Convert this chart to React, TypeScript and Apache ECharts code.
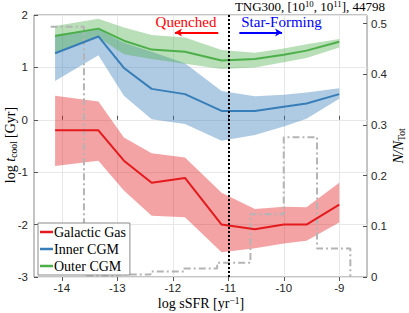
import React, { useEffect, useRef } from "react";
import * as echarts from "echarts";

const xs = [-14.12, -13.34, -12.88, -12.38, -11.78, -11.12, -10.52, -10.0, -9.59, -9.0];

const galMid = [-0.2, -0.2, -0.78, -1.2, -1.11, -2.0, -2.09, -2.0, -2.0, -1.62];
const galUp = [0.46, 0.35, -0.34, -0.64, -0.72, -1.39, -1.7, -1.66, -1.67, -1.2];
const galLo = [-0.88, -0.78, -1.35, -1.83, -1.86, -2.53, -2.45, -2.36, -2.31, -1.96];

const innMid = [1.27, 1.59, 0.99, 0.59, 0.49, 0.17, 0.17, 0.25, 0.31, 0.49];
const innUp = [1.63, 1.73, 1.47, 1.3, 1.08, 0.55, 0.45, 0.48, 0.52, 0.6];
const innLo = [0.74, 1.23, 0.46, 0.01, -0.08, -0.4, -0.29, -0.13, 0.02, 0.4];

const outMid = [1.6, 1.74, 1.51, 1.34, 1.3, 1.13, 1.16, 1.24, 1.32, 1.49];
const outUp = [1.79, 1.93, 1.76, 1.62, 1.57, 1.33, 1.28, 1.36, 1.44, 1.54];
const outLo = [1.27, 1.57, 1.25, 1.16, 1.07, 0.97, 1.0, 1.1, 1.18, 1.38];

const binEdges = [-14.2, -13.6, -13.0, -12.4, -11.8, -11.2, -10.6, -10.0, -9.4, -8.8];
const binFrac = [0.494, 0.002, 0.005, 0.011, 0.017, 0.028, 0.124, 0.276, 0.056];

const xTicks = [-14, -13, -12, -11, -10, -9];
const rightTicks = [0, 0.1, 0.2, 0.3, 0.4, 0.5];
const sSFRcut = -11;

const RED = "#e41a1c";
const BLUE = "#377eb8";
const GREEN = "#4daf4a";

const SERIF = "'Liberation Serif', 'DejaVu Serif', serif";
const SANS = "'Liberation Sans', Arial, sans-serif";

function hexA(hex: string, a: number) {
  const n = parseInt(hex.slice(1), 16);
  return `rgba(${(n >> 16) & 255},${(n >> 8) & 255},${n & 255},${a})`;
}

function band(name: string, up: number[], lo: number[], color: string) {
  return {
    type: "custom",
    name: name + " band",
    xAxisIndex: 0,
    yAxisIndex: 0,
    silent: true,
    z: 1,
    data: [[xs[0], up[0]]],
    renderItem: (params: any, api: any) => {
      if (params.dataIndex !== 0) return null;
      const top = xs.map((x, i) => api.coord([x, up[i]]));
      const bot = xs.map((x, i) => api.coord([x, lo[i]])).reverse();
      return {
        type: "polygon",
        shape: { points: top.concat(bot) },
        style: { fill: hexA(color, 0.4), stroke: "none" },
      };
    },
  };
}

function line(name: string, vals: number[], color: string) {
  return {
    type: "line",
    name,
    xAxisIndex: 0,
    yAxisIndex: 0,
    z: 4,
    showSymbol: false,
    symbol: "none",
    color,
    lineStyle: { color, width: 2 },
    data: xs.map((x, i) => [x, vals[i]]),
  };
}

const histPts: number[][] = [];
binFrac.forEach((h, i) => {
  histPts.push([binEdges[i], h]);
  histPts.push([binEdges[i + 1], h]);
});
histPts.push([binEdges[binEdges.length - 1], 0]);

export default function App() {
  const ref = useRef<HTMLDivElement>(null);
  useEffect(() => {
    if (!ref.current) return;
    const chart = echarts.init(ref.current, null, { renderer: "svg" });
    const mk = (size: number, lh: number) => ({
      n: { fontFamily: SERIF, fontSize: size, color: "#000", lineHeight: lh },
      i: { fontFamily: SERIF, fontSize: size, fontStyle: "italic", color: "#000", lineHeight: lh },
      sub: { fontFamily: SERIF, fontSize: size * 0.68, color: "#000", verticalAlign: "bottom", lineHeight: lh },
      sup: { fontFamily: SERIF, fontSize: size * 0.68, color: "#000", verticalAlign: "top", lineHeight: lh },
    });
    const richBase = mk(14, 18);
    const richTitle = mk(13, 14);
    chart.setOption({
      animation: false,
      backgroundColor: "#fff",
      grid: {
        left: 34,
        right: 42,
        top: 15,
        bottom: 36,
        show: true,
        borderColor: "#8a8a8a",
        borderWidth: 1,
        backgroundColor: "transparent",
      },
      xAxis: [
        {
          type: "value",
          min: -14.5,
          max: -8.5,
          axisLine: { show: false },
          axisTick: { show: true, inside: true, length: 4, customValues: xTicks, lineStyle: { color: "#555" } },
          axisLabel: { customValues: xTicks, fontFamily: SANS, fontSize: 11.5, color: "#262626", margin: 5 },
          splitLine: { show: true, lineStyle: { color: "#e8e8e8", width: 1 } },
        },
        {
          type: "value",
          min: -14.5,
          max: -8.5,
          position: "top",
          axisLine: { show: false },
          axisTick: { show: true, inside: true, length: 4, customValues: xTicks, lineStyle: { color: "#555" } },
          axisLabel: { show: false },
          splitLine: { show: false },
        },
      ],
      yAxis: [
        {
          type: "value",
          min: -3,
          max: 2,
          interval: 1,
          axisLine: { show: false },
          axisTick: { show: true, inside: true, length: 4, lineStyle: { color: "#555" } },
          axisLabel: { fontFamily: SANS, fontSize: 11.5, color: "#262626", margin: 6 },
          splitLine: { show: true, lineStyle: { color: "#e8e8e8", width: 1 } },
        },
        {
          type: "value",
          min: 0,
          max: 0.517,
          position: "right",
          axisLine: { show: false },
          axisTick: { show: true, inside: true, length: 4, customValues: rightTicks, lineStyle: { color: "#555" } },
          axisLabel: { customValues: rightTicks, fontFamily: SANS, fontSize: 11.5, color: "#262626", margin: 4 },
          splitLine: { show: false },
        },
      ],
      legend: {
        data: ["Galactic Gas", "Inner CGM", "Outer CGM"],
        orient: "vertical",
        left: 38,
        top: 223,
        icon: "rect",
        itemWidth: 13,
        itemHeight: 2.5,
        itemGap: 3,
        padding: [2, 4, 2, 2],
        backgroundColor: "#fff",
        borderColor: "#8a8a8a",
        borderWidth: 1,
        textStyle: { fontFamily: SERIF, fontSize: 14, color: "#000", padding: [0, 0, 0, -4] },
        selectedMode: false,
        z: 10,
      },
      series: [
        band("Galactic Gas", galUp, galLo, RED),
        band("Inner CGM", innUp, innLo, BLUE),
        band("Outer CGM", outUp, outLo, GREEN),
        {
          type: "line",
          name: "hist",
          xAxisIndex: 0,
          yAxisIndex: 1,
          z: 3,
          showSymbol: false,
          symbol: "none",
          lineStyle: { color: "#b4b4b4", width: 2, type: [7, 3, 2, 3] },
          data: histPts,
        },
        line("Galactic Gas", galMid, RED),
        line("Inner CGM", innMid, BLUE),
        line("Outer CGM", outMid, GREEN),
        {
          type: "line",
          name: "marks",
          xAxisIndex: 0,
          yAxisIndex: 0,
          z: 6,
          data: [],
          markLine: {
            silent: true,
            animation: false,
            label: { show: false },
            data: [
              [
                { coord: [sSFRcut, -3], symbol: "none", lineStyle: { color: "#000", width: 2, type: [2, 2] } },
                { coord: [sSFRcut, 2], symbol: "none" },
              ],
              [
                { coord: [-11.18, 1.666], symbol: "none", lineStyle: { color: "#ff0000", width: 2, type: "solid" } },
                { coord: [-11.96, 1.666], symbol: "arrow", symbolSize: [6, 7] },
              ],
              [
                { coord: [-10.8, 1.666], symbol: "none", lineStyle: { color: "#0000ff", width: 2, type: "solid" } },
                { coord: [-10.03, 1.666], symbol: "arrow", symbolSize: [6, 7] },
              ],
            ],
          },
        },
      ],
      graphic: [
        {
          type: "text",
          x: 310,
          y: 6.5,
          style: {
            text: "{n|TNG300, [10}{sup|10}{n|, 10}{sup|11}{n|], 44798}",
            align: "center",
            verticalAlign: "middle",
            rich: richTitle,
          },
          z: 20,
        },
        {
          type: "text",
          x: 186,
          y: 22,
          style: { text: "Quenched", fill: "#ff0000", font: `15px ${SERIF}`, align: "center", verticalAlign: "middle" },
          z: 20,
        },
        {
          type: "text",
          x: 281.5,
          y: 22,
          style: { text: "Star-Forming", fill: "#0000ff", font: `15px ${SERIF}`, align: "center", verticalAlign: "middle" },
          z: 20,
        },
        {
          type: "text",
          x: 10,
          y: 145,
          rotation: Math.PI / 2,
          style: {
            text: "{n|log }{i|t}{sub|cool}{n| [Gyr]}",
            align: "center",
            verticalAlign: "middle",
            rich: richBase,
          },
          z: 20,
        },
        {
          type: "text",
          x: 201,
          y: 303.5,
          style: {
            text: "{n|log sSFR [yr}{sup|−1}{n|]}",
            align: "center",
            verticalAlign: "middle",
            rich: mk(14, 16),
          },
          z: 20,
        },
        {
          type: "text",
          x: 398,
          y: 146,
          rotation: Math.PI / 2,
          style: {
            text: "{i|N/N}{sub|Tot}",
            align: "center",
            verticalAlign: "middle",
            rich: richBase,
          },
          z: 20,
        },
      ],
    });
    return () => chart.dispose();
  }, []);
  return (
    <div
      ref={ref}
      style={{ position: "fixed", left: 0, top: 0, width: 409, height: 313, background: "#fff" }}
    />
  );
}
